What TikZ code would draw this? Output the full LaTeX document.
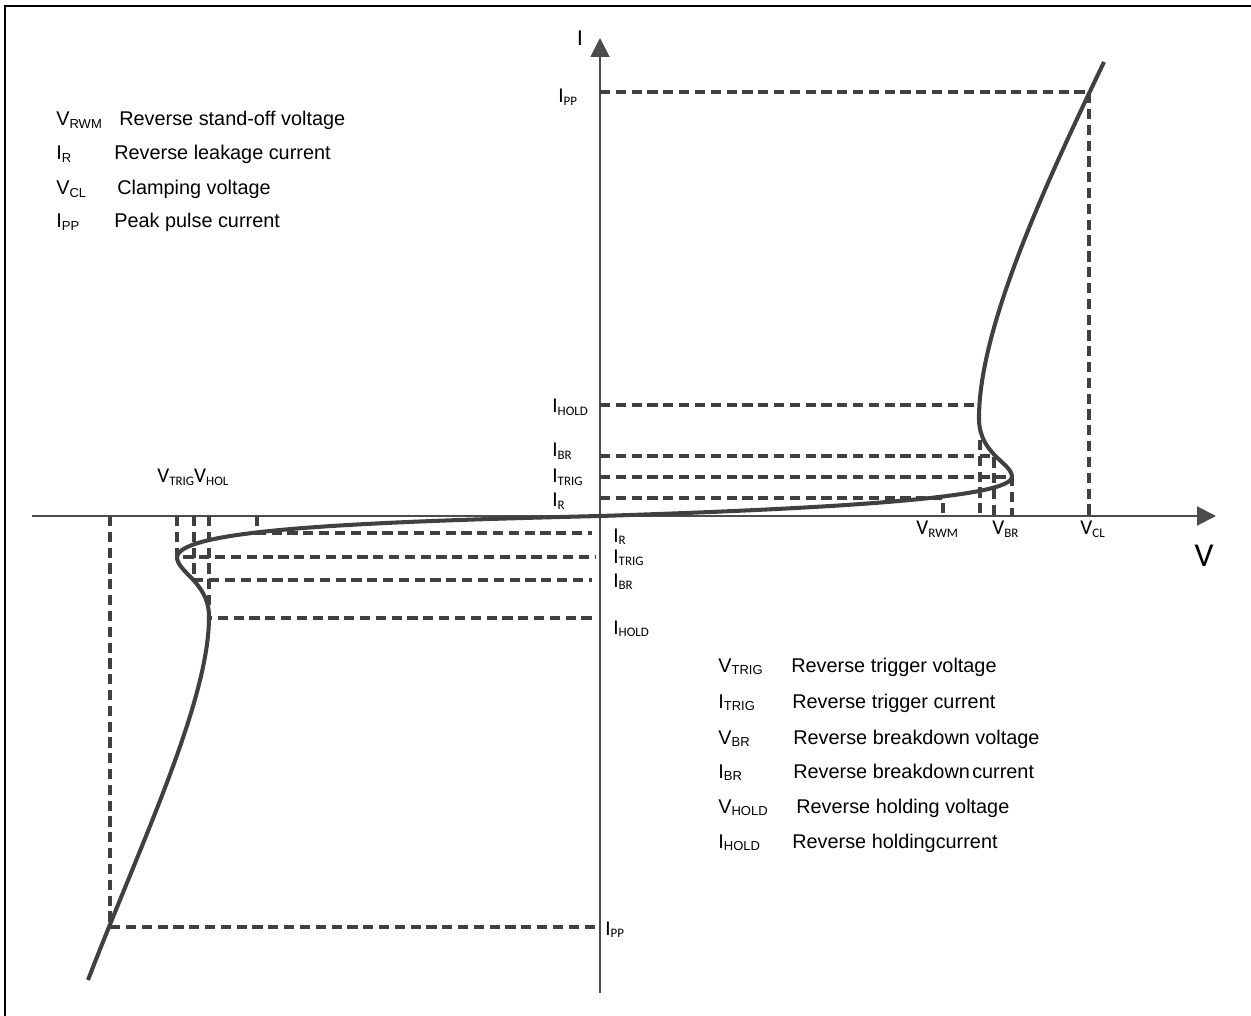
\documentclass[tikz,border=0pt]{standalone}
\usepackage{fontspec}
\setmainfont{Liberation Sans}
\newfontfamily\calib{Carlito}
\usetikzlibrary{arrows.meta}
\newcommand\lsub[1]{\raisebox{-1.5pt}{\fontsize{7.4}{8}\selectfont #1}}

\begin{document}
\begin{tikzpicture}[x=0.02cm,y=-0.02cm,
   axis/.style={draw=black!70,line width=1.1pt,-{Triangle[length=0.38cm,width=0.38cm]}},
   curve/.style={draw=black!75,line width=2.3pt},
   guide/.style={draw=black!75,line width=1.9pt,dash pattern=on 5.8pt off 3.2pt},
   lbl/.style={anchor=base west,inner sep=0pt,font=\calib\fontsize{12}{14}\selectfont},
   leg/.style={anchor=base west,inner sep=0pt,font=\fontsize{11.3}{13}\selectfont}]
   \useasboundingbox (0,0) rectangle (1251,1016);
   \draw[line width=0.9pt] (5,1016) -- (5,6) -- (1251,6);

   \coordinate (o)     at (600,516);
   \coordinate (oP)    at (598,516);
   \coordinate (oT)    at (596,516);
   \coordinate (oL)    at (592,516);
   \coordinate (vbeg)  at (32,516);
   \coordinate (vtip)  at (1216,516);
   \coordinate (ibeg)  at (600,993);
   \coordinate (itip)  at (600,38);

   \coordinate (trR)   at (1012,477);
   \coordinate (noseR) at (979,420);
   \coordinate (endR)  at (1104,62);
   \coordinate (trL)   at (177,557);
   \coordinate (noseL) at (209,615);
   \coordinate (endL)  at (88,980);

   \coordinate (ppR)   at (1089,92);
   \coordinate (holdR) at (978,405);
   \coordinate (holdV) at (980,440);
   \coordinate (brR)   at (994,456);
   \coordinate (rR)    at (943,498);
   \coordinate (ppL)   at (110,927);
   \coordinate (brL)   at (194,580);
   \coordinate (holdL) at (209,618);
   \coordinate (rL)    at (257,533);

   \draw[axis] (vbeg) -- (vtip);
   \draw[axis] (ibeg) -- (itip);

   \draw[guide] (o |- ppR)   -- (ppR)   -- (ppR |- o);
   \draw[guide] (o |- holdR) -- (holdR);
   \draw[guide] (holdV)      -- (holdV |- o);
   \draw[guide] (o |- brR)   -- (brR)   -- (brR |- o);
   \draw[guide] (o |- trR)   -- (trR)   -- (trR |- o);
   \draw[guide] (o |- rR)    -- (rR)    -- (rR |- o);
   \draw[guide] (ppL |- o)   -- (ppL)   -- (oP |- ppL);
   \draw[guide] (trL |- o)   -- (trL)   -- (oT |- trL);
   \draw[guide] (brL |- o)   -- (brL)   -- (oL |- brL);
   \draw[guide] (holdL |- o) -- (holdL) -- (oL |- holdL);
   \draw[guide] (rL |- o)    -- (rL)    -- (oL |- rL);

   \draw[curve] (o) .. controls (850,508) and (1010,497) .. (trR)
                    .. controls (1012,463) and (980,455) .. (noseR)
                    .. controls (978,330) and (1045,185) .. (endR);
   \draw[curve] (o) .. controls (350,522) and (180,530) .. (trL)
                    .. controls (177,572) and (208,582) .. (noseL)
                    .. controls (210,700) and (140,845) .. (endL);

   \node[font=\calib\fontsize{13}{15}\selectfont,anchor=base,inner sep=0pt] (ilab) at (580,46)  {I};
   \node[font=\calib\fontsize{19}{22}\selectfont,anchor=base,inner sep=0pt] (vlab) at (1204,566) {V};

   \node[lbl] (ippT)   at (558,103) {I\lsub{PP}};
   \node[lbl] (iholdT) at (552,413) {I\lsub{HOLD}};
   \node[lbl] (ibrT)   at (552,457) {I\lsub{BR}};
   \node[lbl] (itrigT) at (552,483) {I\lsub{TRIG}};
   \node[lbl] (irT)    at (552,507) {I\lsub{R}};
   \node[lbl] (irB)    at (613,542) {I\lsub{R}};
   \node[lbl] (itrigB) at (613,563) {I\lsub{TRIG}};
   \node[lbl] (ibrB)   at (613,587) {I\lsub{BR}};
   \node[lbl] (iholdB) at (613,634) {I\lsub{HOLD}};
   \node[lbl] (ippB)   at (605,935) {I\lsub{PP}};
   \node[lbl] (vrwm)   at (916,535) {V\lsub{RWM}};
   \node[lbl] (vbr)    at (992,535) {V\lsub{BR}};
   \node[lbl] (vcl)    at (1080,535) {V\lsub{CL}};
   \node[lbl] (vtrig)  at (157,483) {V\lsub{TRIG}V\lsub{HOL}};

   \node[leg] (sRWM)  at (56,126)  {V\lsub{RWM}};
   \node[leg] (dRWM)  at (119,126) {Reverse stand-off voltage};
   \node[leg] (sR)    at (56,160)  {I\lsub{R}};
   \node[leg] (dR)    at (114,160) {Reverse leakage current};
   \node[leg] (sCL)   at (56,195)  {V\lsub{CL}};
   \node[leg] (dCL)   at (117,195) {Clamping voltage};
   \node[leg] (sPP)   at (56,228)  {I\lsub{PP}};
   \node[leg] (dPP)   at (114,228) {Peak pulse current};

   \node[leg] (sTRIG) at (718,672) {V\lsub{TRIG}};
   \node[leg] (dTRIG) at (791,672) {Reverse trigger voltage};
   \node[leg] (sIT)   at (718,708) {I\lsub{TRIG}};
   \node[leg] (dIT)   at (792,708) {Reverse trigger current};
   \node[leg] (sBR)   at (718,744) {V\lsub{BR}};
   \node[leg] (dBR)   at (793,744) {Reverse breakdown voltage};
   \node[leg] (sIBR)  at (718,778) {I\lsub{BR}};
   \node[leg] (dIBR)  at (793,778) {Reverse breakdown\hspace{0.12em}current};
   \node[leg] (sHOLD) at (718,813) {V\lsub{HOLD}};
   \node[leg] (dHOLD) at (796,813) {Reverse holding voltage};
   \node[leg] (sIH)   at (718,848) {I\lsub{HOLD}};
   \node[leg] (dIH)   at (792,848) {Reverse holdingcurrent};
\end{tikzpicture}
\end{document}
